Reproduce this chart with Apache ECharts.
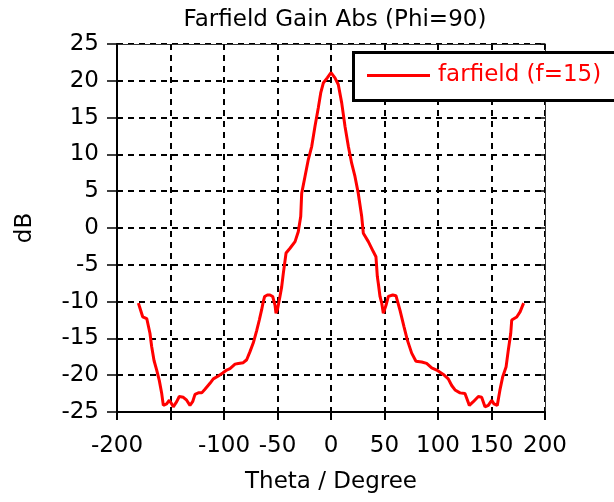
<!DOCTYPE html>
<html><head><meta charset="utf-8">
<script src="https://cdn.jsdelivr.net/npm/echarts@6/dist/echarts.min.js"></script>
<style>html,body{margin:0;padding:0;background:#fff}#c{width:614px;height:502px}</style>
</head><body><div id="c"></div>
<script>
var chartTitle = 'Farfield Gain Abs (Phi=90)';
var seriesName = 'farfield (f=15)';
var xName = 'Theta / Degree';
var yName = 'dB';
var xTicks = [-200, -150, -100, -50, 0, 50, 100, 150, 200];
var xHiddenLabels = [-150];
var yTicks = [-25, -20, -15, -10, -5, 0, 5, 10, 15, 20, 25];
var theta = [-180, -178.5, -176, -172.2, -170.7, -169.2, -167.6, -165.4, -162.9, -160.5, -158.2, -156.7, -153.6, -151.1, -148.9, -147.4, -144.2, -141.8, -138, -134.9, -131.8, -129.3, -127.1, -124, -120.8, -117.8, -113.1, -110, -105.3, -101.2, -97.5, -94.4, -89.7, -86.6, -82, -78.8, -75.7, -72.6, -69.4, -67, -64.8, -63.3, -62, -59.5, -57, -54.5, -52.3, -51.4, -49.8, -47.7, -46.1, -44.6, -42, -38.3, -33.6, -30.6, -28.3, -27.4, -24.3, -21.2, -18, -15, -11.9, -9.6, -7.2, -3.5, 0, 3.7, 6.8, 10, 13.1, 16.2, 19.3, 22.4, 25.5, 28.7, 30.2, 34.9, 39.5, 42, 43.3, 44.2, 45.8, 47.4, 48.9, 51.4, 53.6, 57.7, 60.7, 64.5, 68.2, 71.3, 75.4, 79.4, 84.8, 89.4, 94.1, 98.8, 105, 109.6, 112.8, 115.9, 120.6, 125.2, 129.3, 133, 137.7, 140.8, 143.9, 147, 150.2, 152.3, 155.4, 157.9, 160.5, 163.6, 165.7, 168, 168.9, 173.6, 176.7, 180];
var gain = [-10.2, -10.9, -12.06, -12.3, -12.5, -14.3, -16.1, -18.0, -19.3, -20.7, -22.5, -24.1, -23.9, -23.4, -23.9, -24.3, -23.6, -22.9, -23.0, -23.4, -24.1, -23.6, -22.6, -22.4, -22.4, -21.9, -21.1, -20.5, -20.1, -19.7, -19.3, -19.1, -18.5, -18.4, -18.3, -17.9, -16.8, -15.6, -13.9, -12.5, -11.1, -10.0, -9.3, -9.1, -9.1, -9.3, -10.5, -11.6, -10.9, -9.3, -8.0, -6.2, -3.4, -2.75, -1.85, -0.5, 1.55, 4.7, 7.0, 9.3, 11.1, 13.8, 16.3, 18.35, 19.7, 20.4, 21.1, 20.4, 19.5, 17.0, 13.8, 11.1, 8.8, 7.0, 4.7, 1.55, -0.7, -1.85, -3.2, -3.9, -6.6, -7.5, -9.3, -10.2, -11.6, -10.5, -9.3, -9.1, -9.2, -11.2, -13.4, -15.2, -17.0, -18.1, -18.2, -18.4, -19.0, -19.3, -19.9, -20.5, -21.4, -22.0, -22.4, -22.5, -24.1, -23.6, -22.9, -23.0, -24.3, -24.1, -23.4, -23.9, -24.1, -22.0, -20.2, -18.9, -16.6, -14.3, -12.5, -12.1, -11.4, -10.2];

var FONT = 'DejaVu Sans';
var FS = 23;
var data = theta.map(function (t, i) { return [t, gain[i]]; });
var chart = echarts.init(document.getElementById('c'), null, {renderer: 'canvas'});
var gridLine = {show: true, lineStyle: {color: '#000', width: 2, type: [6, 5]}};
chart.setOption({
  animation: false,
  backgroundColor: '#fff',
  title: {
    text: chartTitle, left: 330, top: 4, textAlign: 'center',
    textStyle: {fontFamily: FONT, fontSize: FS, fontWeight: 'normal', color: '#000'}
  },
  graphic: [{
    type: 'rect', z: 20, silent: true,
    shape: {x: 353.5, y: 52.5, width: 300, height: 48},
    style: {fill: '#fff', stroke: '#000', lineWidth: 3}
  }],
  legend: {
    data: [seriesName], left: 353, top: 51, z: 30,
    orient: 'horizontal',
    padding: [13, 10, 13, 14],
    itemWidth: 63, itemHeight: 3, itemGap: 0,
    icon: 'rect',
    textStyle: {fontFamily: FONT, fontSize: FS, color: '#ff0000', padding: [0, 0, 0, 3]}
  },
  grid: {left: 117, right: 69, top: 44, bottom: 90, containLabel: false},
  xAxis: [{
    type: 'value', min: xTicks[0], max: xTicks[xTicks.length - 1], interval: 50,
    name: xName, nameLocation: 'middle', nameGap: 59,
    nameTextStyle: {fontFamily: FONT, fontSize: FS, color: '#000'},
    axisLine: {show: true, onZero: false, lineStyle: {color: '#000', width: 2}},
    axisTick: {show: true, inside: false, length: 8, lineStyle: {color: '#000', width: 2}},
    axisLabel: {
      margin: 23, fontFamily: FONT, fontSize: FS, color: '#000',
      formatter: function (v) { return xHiddenLabels.indexOf(v) >= 0 ? '' : String(v); }
    },
    splitLine: gridLine
  }, {
    type: 'value', position: 'top', min: xTicks[0], max: xTicks[xTicks.length - 1], interval: 50,
    axisLine: {show: true, onZero: false, lineStyle: {color: '#333', width: 1}},
    axisTick: {show: true, inside: true, length: 5, lineStyle: {color: '#000', width: 1.5}},
    axisLabel: {show: false}, splitLine: {show: false}
  }],
  yAxis: [{
    type: 'value', min: yTicks[0], max: yTicks[yTicks.length - 1], interval: 5,
    name: yName, nameLocation: 'middle', nameGap: 80, nameRotate: 90,
    nameTextStyle: {fontFamily: FONT, fontSize: FS, color: '#000'},
    axisLine: {show: true, onZero: false, lineStyle: {color: '#000', width: 2}},
    axisTick: {show: true, inside: false, length: 10, lineStyle: {color: '#000', width: 1.5}},
    axisLabel: {margin: 18, fontFamily: FONT, fontSize: FS, color: '#000'},
    splitLine: gridLine
  }, {
    type: 'value', position: 'right', min: yTicks[0], max: yTicks[yTicks.length - 1], interval: 5,
    axisLine: {show: true, onZero: false, lineStyle: {color: '#333', width: 1}},
    axisTick: {show: true, inside: true, length: 5, lineStyle: {color: '#000', width: 1.5}},
    axisLabel: {show: false}, splitLine: {show: false}
  }],
  series: [{
    name: seriesName, type: 'line', data: data, showSymbol: false, symbol: 'none',
    lineStyle: {color: '#ff0000', width: 3}, itemStyle: {color: '#ff0000'}, z: 5
  }]
});
</script></body></html>
